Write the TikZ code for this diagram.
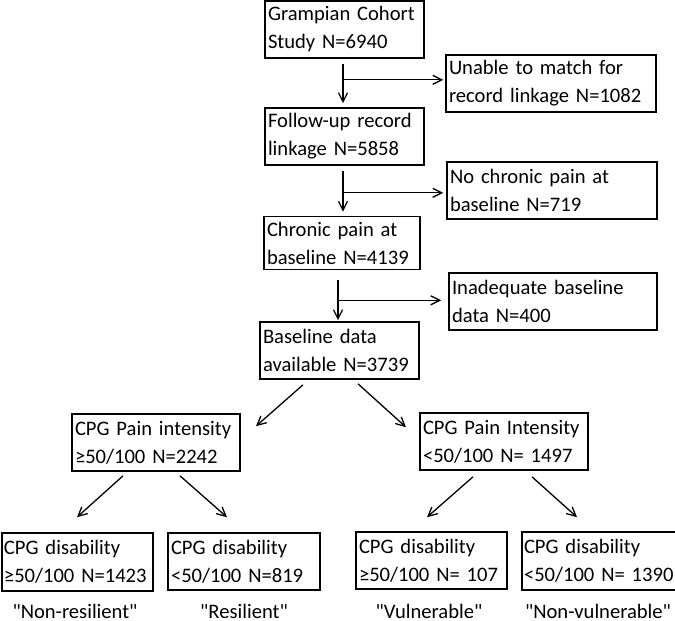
\documentclass[tikz,border=0pt]{standalone}
\usepackage{fontspec}
\setmainfont{Carlito}
\usetikzlibrary{arrows.meta,calc}
\begin{document}
\begin{tikzpicture}[x=1pt,y=-1pt,
  box/.style={draw, line width=1.6pt, align=left, inner xsep=3pt, inner ysep=0pt,
    font=\fontsize{20.6}{28}\selectfont, anchor=center},
  arr/.style={line width=1.3pt, -{Straight Barb[length=9pt,width=9pt,line width=1.3pt]}},
  lab/.style={font=\fontsize{20.6}{28}\selectfont, inner sep=0pt, text depth=0pt, anchor=base}]
\useasboundingbox (0,0) rectangle (675,621);
\node[box, minimum width=159pt, minimum height=57pt, text width=153pt] (g) at (344.5,29.5) {Grampian Cohort\\Study N=6940};
\node[box, minimum width=210pt, minimum height=57pt, text width=204pt] (u) at (551,83.5) {Unable to match for\\record linkage N=1082};
\node[box, minimum width=159pt, minimum height=57pt, text width=153pt] (f) at (344.5,136.5) {Follow-up record\\linkage N=5858};
\node[box, minimum width=210pt, minimum height=57pt, text width=204pt] (n) at (552,190.5) {No chronic pain at\\baseline N=719};
\node[box, minimum width=156pt, minimum height=53pt, text width=150pt] (c) at (342,243) {Chronic pain at\\baseline N=4139};
\node[box, minimum width=208pt, minimum height=57pt, text width=202pt] (i) at (553,301.5) {Inadequate baseline\\data N=400};
\node[box, minimum width=159pt, minimum height=57pt, text width=153pt] (b) at (339.5,350.5) {Baseline data\\available N=3739};
\node[box, minimum width=168pt, minimum height=57pt, text width=162pt] (l) at (156,442.5) {CPG Pain intensity\\≥50/100 N=2242};
\node[box, minimum width=168pt, minimum height=57pt, text width=162pt] (r) at (504,441.5) {CPG Pain Intensity\\<50/100 N= 1497};
\node[box, minimum width=151pt, minimum height=58pt, text width=147pt, inner xsep=2pt] (A) at (77.5,562) {CPG disability\\≥50/100 N=1423};
\node[box, minimum width=152pt, minimum height=57pt, text width=146pt] (B) at (244,561.5) {CPG disability\\<50/100 N=819};
\node[box, minimum width=151pt, minimum height=57pt, text width=145pt] (C) at (431.5,560.5) {CPG disability\\≥50/100 N= 107};
\node[box, minimum width=156pt, minimum height=58pt, text width=152pt, inner xsep=2pt] (D) at (600,561) {CPG disability\\<50/100 N= 1390};
% labels
\node[lab] (la) at ($(A.south)+(-2.5,27)$) {\textquotedbl Non-resilient\textquotedbl};
\node[lab] (lb) at ($(B.south)+(0,28)$) {\textquotedbl Resilient\textquotedbl};
\node[lab] (lc) at ($(C.south)+(-2.5,29)$) {\textquotedbl Vulnerable\textquotedbl};
\node[lab] (ld) at ($(D.south)+(-2,28)$) {\textquotedbl Non-vulnerable\textquotedbl};
% vertical flow with side branches
\draw[arr] ($(g.south)+(-1.5,5)$) -- ($(f.north)+(-1.5,-4)$);
\coordinate (j1) at ($(g.south)+(-1.5,21)$);
\draw[arr] (j1) -- ($(j1 -| u.west)+(-2,0)$);
\draw[arr] ($(f.south)+(-1.5,5)$) -- ($(f.south |- c.north)+(-1.5,-4)$);
\coordinate (j2) at ($(f.south)+(-1.5,27)$);
\draw[arr] (j2) -- ($(j2 -| n.west)+(-3,0)$);
\draw[arr] ($(c.south)+(-4,10)$) -- ($(c.south |- b.north)+(-4,-1)$);
\coordinate (j3) at ($(c.south)+(-4,30)$);
\draw[arr] (j3) -- ($(j3 -| i.west)+(-7,0)$);
% diagonal splits
\draw[arr] ($(b.south)+(-36.5,5)$) -- ($(l.north)+(100,13)$);
\draw[arr] ($(b.south)+(18.5,4)$) -- ($(r.north)+(-98,15)$);
\draw[arr] ($(l.south)+(-33,4)$) -- ($(A.north)+(-0.5,-15)$);
\draw[arr] ($(l.south)+(24,4)$) -- ($(B.north)+(-17,-15)$);
\draw[arr] ($(r.south)+(-31,6)$) -- ($(C.north)+(-4.5,-14)$);
\draw[arr] ($(r.south)+(28,6)$) -- ($(D.north)+(-23,-14)$);
\end{tikzpicture}
\end{document}
